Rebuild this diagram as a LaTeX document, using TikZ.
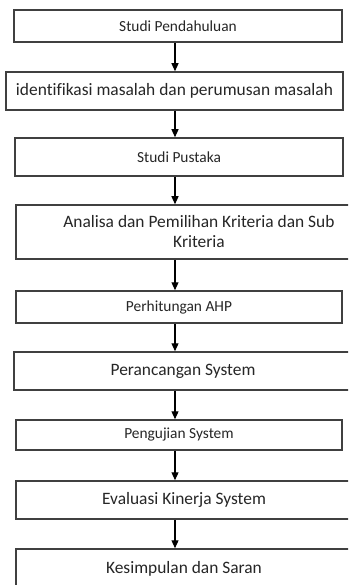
\documentclass[tikz,border=0pt]{standalone}
\usepackage{fontspec}
\setmainfont{Carlito}[Ligatures=NoCommon]
\usetikzlibrary{arrows.meta}

\definecolor{boxgray}{HTML}{404040}

\tikzset{
  box/.style={draw=boxgray, line width=1.5pt, inner sep=0pt, align=center, text=black!85},
  small/.style={font=\fontsize{15.4}{18}\selectfont},
  big/.style={font=\fontsize{17.4}{20}\selectfont},
  arr/.style={line width=1.2pt, -{Triangle[width=7pt,length=8pt]}},
}

\begin{document}
\begin{tikzpicture}[x=1pt,y=-1pt]
\useasboundingbox (0,0) rectangle (348,585);
\fill[white] (0,0) rectangle (348,585);
\clip (0,0) rectangle (348,585);

% Axis of the arrows
\coordinate (axis) at (175,0);

% Draw the boxes
\node[box,small,minimum width=328pt,minimum height=32pt] (pendahuluan) at (178,26) {Studi Pendahuluan};
\node[box,big,minimum width=337pt,minimum height=38pt] (identifikasi) at (174.5,91) {identifikasi masalah dan perumusan masalah};
\node[box,small,minimum width=328pt,minimum height=38pt] (pustaka) at (179,157) {Studi Pustaka};
\node[box,big,minimum width=366pt,minimum height=54pt] (analisa) at (199,232) {Analisa dan Pemilihan Kriteria dan Sub\\Kriteria};
\node[box,small,minimum width=326pt,minimum height=32pt] (ahp) at (179,307) {Perhitungan AHP};
\node[box,big,minimum width=338pt,minimum height=38pt] (perancangan) at (183,371) {Perancangan System};
\node[box,small,minimum width=326pt,minimum height=30pt] (pengujian) at (179,435) {Pengujian System};
\node[box,big,minimum width=336pt,minimum height=38pt] (evaluasi) at (184,500) {Evaluasi Kinerja System};
\node[box,big,minimum width=336pt,minimum height=40pt] (kesimpulan) at (184,569) {Kesimpulan dan Saran};

% Draw the arrows
\draw[arr] (pendahuluan.south -| axis) -- (identifikasi.north -| axis);
\draw[arr] (identifikasi.south -| axis) -- (pustaka.north -| axis);
\draw[arr] (pustaka.south -| axis) -- (analisa.north -| axis);
\draw[arr] (analisa.south -| axis) -- (ahp.north -| axis);
\draw[arr] (ahp.south -| axis) -- (perancangan.north -| axis);
\draw[arr] (perancangan.south -| axis) -- (pengujian.north -| axis);
\draw[arr] (pengujian.south -| axis) -- (evaluasi.north -| axis);
\draw[arr] (evaluasi.south -| axis) -- (kesimpulan.north -| axis);

\end{tikzpicture}
\end{document}
